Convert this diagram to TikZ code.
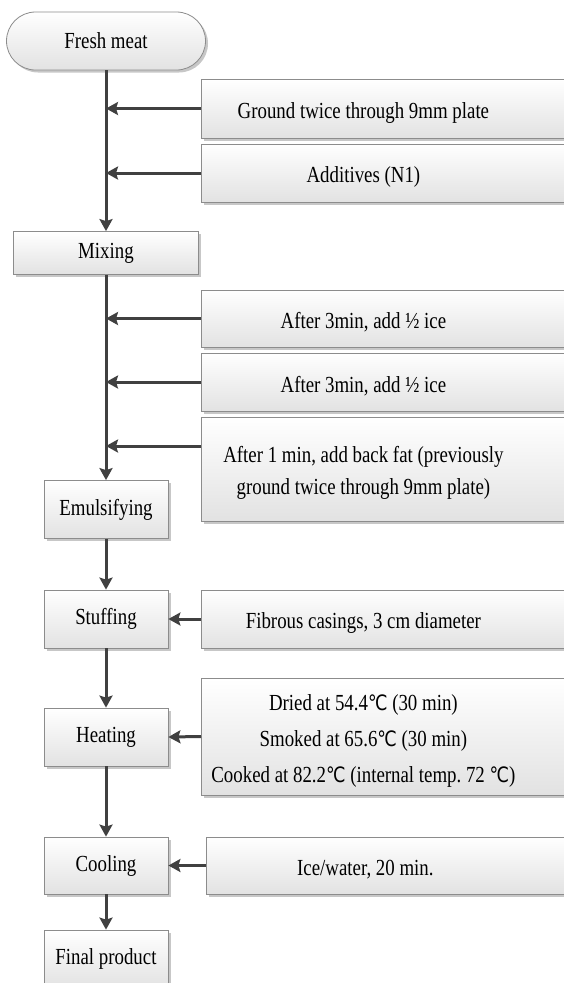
\documentclass[tikz,border=0pt]{standalone}
\usepackage{fontspec}
\setmainfont{Liberation Serif}[FakeStretch=0.82]
\newfontfamily\degfont{DejaVu Sans}[FakeStretch=0.82,Scale=0.92]
\usepackage{tikz}
\usetikzlibrary{
arrows.meta,
shadows,
shapes.misc,
}
\definecolor{boxline}{HTML}{8C8C8C}
\definecolor{boxbottom}{HTML}{E2E2E2}
\definecolor{flowline}{HTML}{404040}
\newcommand{\degC}{{\degfont ℃}}
\newcommand{\sidetext}[2][324pt]{\parbox{#1}{\centering\vspace*{8pt}#2}\hspace*{60pt}}
\tikzset{
stagebox/.style={rectangle, draw=boxline, line width=0.8pt, top color=white, bottom color=boxbottom,
  drop shadow={shadow xshift=2.5pt, shadow yshift=-2.5pt, fill=black, opacity=0.22},
  font=\fontsize{23}{36}\selectfont, inner sep=0pt},
sidebox/.style={stagebox, anchor=west},
flow/.style={draw=flowline, line width=3pt, -{Stealth[length=12pt,width=13pt,inset=2pt]}},
}

\begin{document}
\begin{tikzpicture}[x=1pt, y=-1pt]
\useasboundingbox (0,0) rectangle (563,983);
\node[stagebox, rounded rectangle, minimum width=199pt, minimum height=58pt] (fresh) at (106,41) {Fresh meat};
\node[stagebox, minimum width=185pt, minimum height=43pt] (mix) at (106,253) {Mixing};
\node[stagebox, minimum width=124pt, minimum height=58pt] (emul) at (106,509.5) {Emulsifying};
\node[stagebox, minimum width=124pt, minimum height=58pt] (stuff) at (106,619) {Stuffing};
\node[stagebox, minimum width=124pt, minimum height=58pt] (heat) at (106,737) {Heating};
\node[stagebox, minimum width=124pt, minimum height=57pt] (cool) at (106,865.5) {Cooling};
\node[stagebox, minimum width=124pt, minimum height=58pt] (final) at (106,959) {Final product};

\node[sidebox, minimum height=59pt] (grind) at (201,108.5) {\sidetext{Ground twice through 9mm plate}};
\node[sidebox, minimum height=58pt] (addit) at (201,173) {\sidetext{Additives (N1)}};
\node[sidebox, minimum height=57pt] (iceA) at (201,318.5) {\sidetext{After 3min, add ½ ice}};
\node[sidebox, minimum height=58pt] (iceB) at (201,382) {\sidetext{After 3min, add ½ ice}};
\node[sidebox, minimum height=104pt] (fat) at (201,469) {\sidetext{\baselineskip=32pt After 1 min, add back fat (previously\\ground twice through 9mm plate)}};
\node[sidebox, minimum height=58pt] (casing) at (201,619) {\sidetext{Fibrous casings, 3 cm diameter}};
\node[sidebox, minimum height=117pt] (heatcond) at (201,736.5) {\sidetext{Dried at 54.4\degC{} (30 min)\\Smoked at 65.6\degC{} (30 min)\\Cooked at 82.2\degC{} (internal temp.~72 \degC)}};
\node[sidebox, minimum height=57pt] (water) at (206,865.5) {\sidetext[318pt]{Ice/water, 20 min.}};

\coordinate (j1) at (fresh.south |- grind.west);
\coordinate (j2) at (fresh.south |- addit.west);
\coordinate (j3) at (fresh.south |- iceA.west);
\coordinate (j4) at (fresh.south |- iceB.west);
\coordinate (j5) at (fresh.south |- {0,446});

\draw[flow] (fresh.south) -- (mix.north);
\draw[flow] (mix.south) -- (emul.north);
\draw[flow] (emul) -- (stuff);
\draw[flow] (stuff) -- (heat);
\draw[flow] (heat) -- (cool);
\draw[flow] (cool) -- (final);

\draw[flow] (grind.west) -- (j1);
\draw[flow] (addit.west) -- (j2);
\draw[flow] (iceA.west) -- (j3);
\draw[flow] (iceB.west) -- (j4);
\draw[flow] (fat.west |- j5) -- (j5);
\draw[flow] (casing.west) -- (stuff.east);
\draw[flow] (heatcond.west) -- (heat.east);
\draw[flow] (water.west) -- (cool.east);
\end{tikzpicture}
\end{document}
